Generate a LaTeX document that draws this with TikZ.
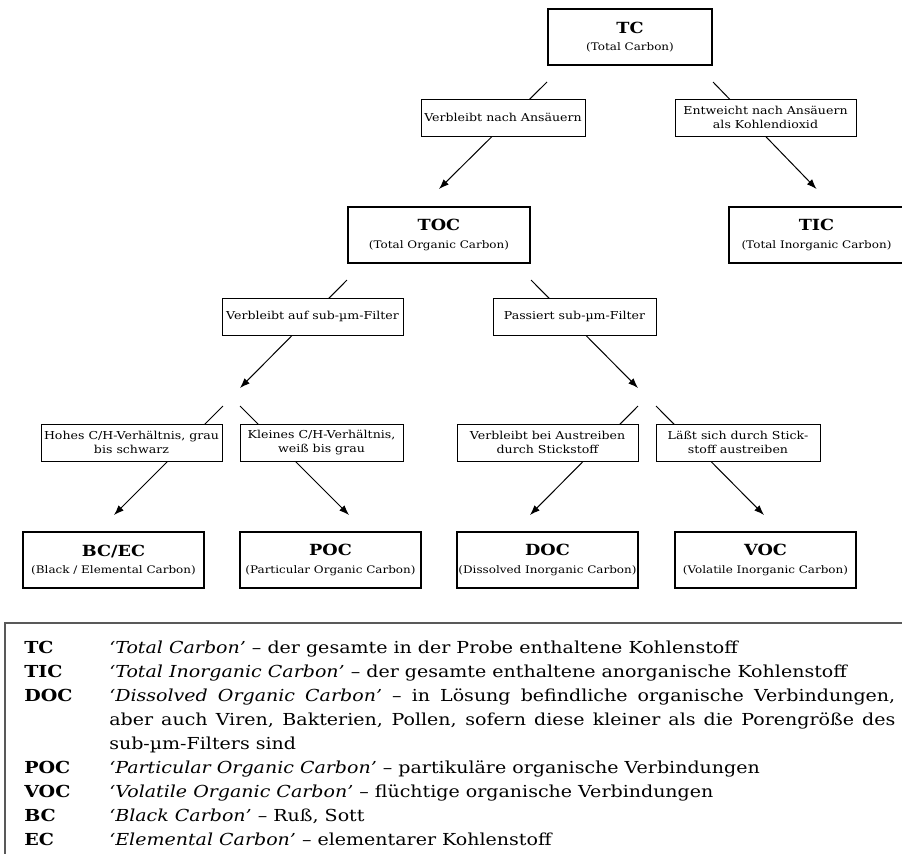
\documentclass[tikz,border=0pt]{standalone}
\usepackage{amsmath}
\usepackage{fontspec}
\setmainfont{DejaVu Serif}[FakeStretch = 1.15]
\usepackage{tikz}
\usetikzlibrary{arrows.meta}

\tikzset{
    carbon/.style = {draw = black, line width = 1.5pt, fill = white, minimum height = 42pt, inner sep = 0pt, align = center, font = {\fontsize{7.8}{13}\selectfont}},
    condition/.style = {draw = black, line width = 0.6pt, fill = white, minimum height = 27.75pt, inner sep = 0pt, align = center, font = {\fontsize{8.2}{11}\selectfont}},
    flow/.style = {-{Latex[length = 7.5pt, width = 5.5pt]}, line width = 0.75pt},
    abbr/.style = {anchor = base west, inner sep = 0pt, font = {\fontsize{12.4}{14}\selectfont\bfseries}},
    meaning/.style = {anchor = base west, inner sep = 0pt, font = {\fontsize{12.4}{14}\selectfont}}
}
\newcommand{\carbontitle}[1]{{\fontsize{11.5}{13}\selectfont\bfseries #1}}

\begin{document}
\begin{tikzpicture}[x = 0.75pt, y = -0.75pt]
        \useasboundingbox (0, 0) rectangle (902, 854);
        \node[carbon, minimum width = 123pt] (tc) at (630, 37) {\carbontitle{TC}\\(Total Carbon)};
        \node[carbon, minimum width = 136.5pt] (toc) at (439, 235) {\carbontitle{TOC}\\(Total Organic Carbon)};
        \node[carbon, minimum width = 131.25pt] (tic) at (816.5, 235) {\carbontitle{TIC}\\(Total Inorganic Carbon)};
        \node[carbon, minimum width = 135.75pt] (bcec) at (113.5, 560) {\carbontitle{BC/EC}\\(Black / Elemental Carbon)};
        \node[carbon, minimum width = 135.75pt] (poc) at (330.5, 560) {\carbontitle{POC}\\(Particular Organic Carbon)};
        \node[carbon, minimum width = 135.75pt] (doc) at (547.5, 560) {\carbontitle{DOC}\\(Dissolved Inorganic Carbon)};
        \node[carbon, minimum width = 135.75pt] (voc) at (765.5, 560) {\carbontitle{VOC}\\(Volatile Inorganic Carbon)};

        \coordinate (left fork) at (240, 388);
        \coordinate (right fork) at (638, 388);
        \coordinate (bcec in) at (114, 515);
        \coordinate (poc in) at (349, 515);
        \coordinate (doc in) at (530, 515);
        \coordinate (voc in) at (764, 515);

        \draw[flow] ([yshift = -12pt] tc.south west) -- ([yshift = 12.75pt] toc.north);
        \draw[flow] ([yshift = -12pt] tc.south east) -- ([yshift = 12.75pt] tic.north);
        \draw[flow] ([yshift = -12pt] toc.south west) -- (left fork);
        \draw[flow] ([yshift = -12pt] toc.south east) -- (right fork);
        \draw[flow] ([shift = {(-17, 18)}] left fork) -- (bcec in);
        \draw[flow] ([shift = {(0, 18)}] left fork) -- (poc in);
        \draw[flow] ([shift = {(0, 18)}] right fork) -- (doc in);
        \draw[flow] ([shift = {(18, 18)}] right fork) -- (voc in);

        \node[condition, minimum width = 123pt] (acid stays) at (503, 117.5) {Verbleibt nach Ansäuern};
        \node[condition, minimum width = 135.75pt] (acid leaves) at (765.5, 117.5) {Entweicht nach Ansäuern\\als Kohlendioxid};
        \node[condition, minimum width = 135.75pt] (filter stays) at (312.5, 316.5) {Verbleibt auf sub-µm-Filter};
        \node[condition, minimum width = 122.25pt] (filter passes) at (574.5, 316.5) {Passiert sub-µm-Filter};
        \node[condition, minimum width = 135.75pt] (high ch) at (131.5, 442.5) {Hohes C/H-Verhältnis, grau\\bis schwarz};
        \node[condition, minimum width = 122.25pt] (low ch) at (321.5, 442.5) {Kleines C/H-Verhältnis,\\weiß bis grau};
        \node[condition, minimum width = 135.75pt] (gas stays) at (547.5, 442.5) {Verbleibt bei Austreiben\\durch Stickstoff};
        \node[condition, minimum width = 123pt] (gas leaves) at (738, 442.5) {Läßt sich durch Stick-\\stoff austreiben};

        \draw[line width = 1.5pt, color = black!65] (902, 623) -- (5, 623) -- (5, 854);
        \node[abbr] (tc abbr) at (24, 653) {TC};
        \node[meaning] (tc text) at (109, 653) {\textit{‘Total Carbon’} – der gesamte in der Probe enthaltene Kohlenstoff};
        \node[abbr] (tic abbr) at (24, 677) {TIC};
        \node[meaning] (tic text) at (109, 677) {\textit{‘Total Inorganic Carbon’} – der gesamte enthaltene anorganische Kohlenstoff};
        \node[abbr] (doc abbr) at (24, 701) {DOC};
        \node[meaning] (doc text) at (109, 701) {\makebox[589.5pt][s]{\textit{‘Dissolved Organic Carbon’} – in Lösung befindliche organische Verbindungen,}};
        \node[meaning] (doc text b) at (109, 725) {\makebox[589.5pt][s]{aber auch Viren, Bakterien, Pollen, sofern diese kleiner als die Porengröße des}};
        \node[meaning] (doc text c) at (109, 749) {sub-µm-Filters sind};
        \node[abbr] (poc abbr) at (24, 773) {POC};
        \node[meaning] (poc text) at (109, 773) {\textit{‘Particular Organic Carbon’} – partikuläre organische Verbindungen};
        \node[abbr] (voc abbr) at (24, 797) {VOC};
        \node[meaning] (voc text) at (109, 797) {\textit{‘Volatile Organic Carbon’} – flüchtige organische Verbindungen};
        \node[abbr] (bc abbr) at (24, 821) {BC};
        \node[meaning] (bc text) at (109, 821) {\textit{‘Black Carbon’} – Ruß, Sott};
        \node[abbr] (ec abbr) at (24, 845) {EC};
        \node[meaning] (ec text) at (109, 845) {\textit{‘Elemental Carbon’} – elementarer Kohlenstoff};
    \end{tikzpicture}
\end{document}
